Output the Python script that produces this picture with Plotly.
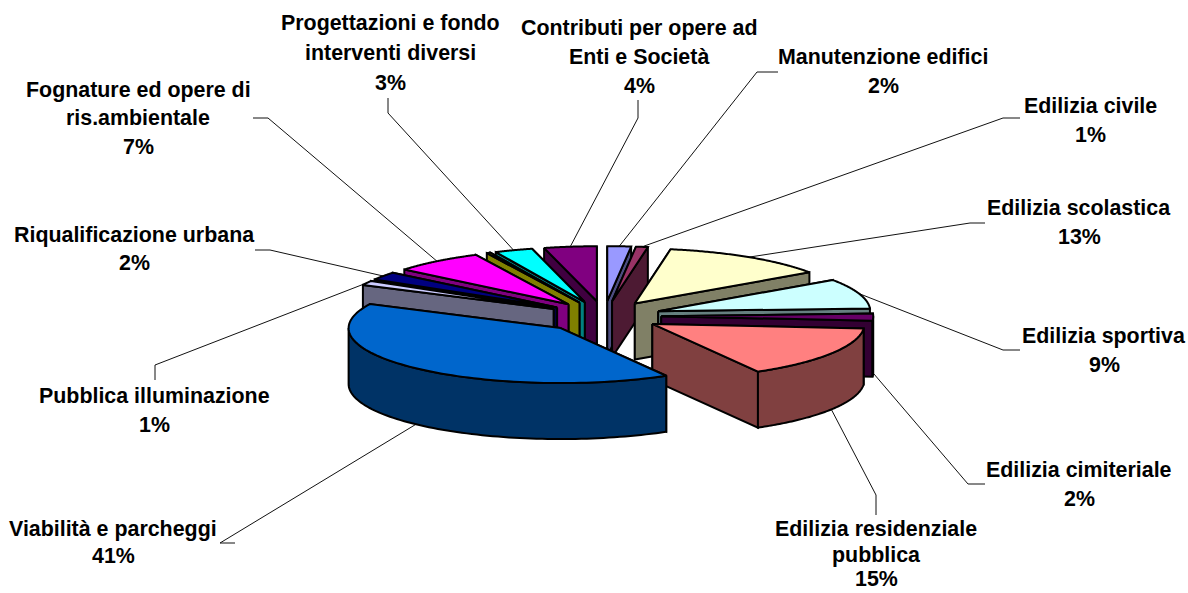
import numpy as np
import plotly.graph_objects as go

# data (clockwise from 12 o'clock)
names = ["Manutenzione edifici", "Edilizia civile", "Edilizia scolastica", "Edilizia sportiva",
         "Edilizia cimiteriale", "Edilizia residenziale pubblica", "Viabilità e parcheggi",
         "Pubblica illuminazione", "Riqualificazione urbana", "Fognature ed opere di ris.ambientale",
         "(senza etichetta)", "Progettazioni e fondo interventi diversi", "Contributi per opere ad Enti e Società"]
values = [1.8, 0.9, 12.7, 8.8, 2.1, 15.4, 40.5, 1.3, 2.4, 6.9, 0.3, 2.9, 4.0]
top_colors = ["#9999FF", "#993366", "#FFFFCC", "#CCFFFF", "#660066", "#FF8080", "#0066CC",
              "#CCCCFF", "#000080", "#FF00FF", "#FFFF00", "#00FFFF", "#800080"]
side_colors = ["#4D4D80", "#4D1A33", "#808066", "#668080", "#330033", "#804040", "#003366",
               "#666680", "#000040", "#800080", "#808000", "#008080", "#400040"]
explode = [0.27, 0.27, 0.27, 0.27, 0.27, 0.27, 0.30, 0.27, 0.27, 0.27, 0.27, 0.27, 0.27]

# layout of the drawing, in page pixels
CX, CY, RX, RY, DEPTH = 604, 316, 212, 55, 56
label_lines = [
    [("Manutenzione edifici", 883, 57), ("2%", 883, 86)],
    [("Edilizia civile", 1090, 106), ("1%", 1090, 135)],
    [("Edilizia scolastica", 1079, 208), ("13%", 1079, 237)],
    [("Edilizia sportiva", 1104, 336), ("9%", 1104, 365)],
    [("Edilizia cimiteriale", 1079, 470), ("2%", 1079, 499)],
    [("Edilizia residenziale", 876, 529), ("pubblica", 876, 555), ("15%", 876, 579)],
    [("Viabilità e parcheggi", 113, 529), ("41%", 113, 556)],
    [("Pubblica illuminazione", 154, 396), ("1%", 154, 425)],
    [("Riqualificazione urbana", 134, 235), ("2%", 134, 263)],
    [("Fognature ed opere di", 138, 90), ("ris.ambientale", 138, 118), ("7%", 138, 147)],
    [],
    [("Progettazioni e fondo", 390, 23), ("interventi diversi", 390, 53), ("3%", 390, 83)],
    [("Contributi per opere ad", 639, 28), ("Enti e Società", 639, 57), ("4%", 639, 86)],
]
leader_elbows = [
    [(778, 72), (757, 72)], [(1020, 118), (1003, 118)], [(985, 223), (970, 223)],
    [(1020, 350), (1003, 350)], [(985, 484), (968, 484)], [(876, 515), (876, 495)],
    [(235, 543), (220, 543)], [(155, 380), (155, 365)], [(255, 250), (270, 250)],
    [(253, 118), (268, 118)], [], [(388, 98), (388, 113)], [(638, 100), (638, 118)],
]

fracs = np.array(values, dtype=float) / sum(values)
edges = np.concatenate([[0], np.cumsum(fracs)]) * 2 * np.pi
fig = go.Figure()


def poly(xs, ys, fill):
    fig.add_trace(go.Scatter(x=list(xs) + [xs[0]], y=list(ys) + [ys[0]], mode="lines", fill="toself",
                             fillcolor=fill, line=dict(color="#000000", width=2, simplify=False),
                             hoverinfo="skip", showlegend=False))


def apex(i):
    m = (edges[i] + edges[i + 1]) / 2
    return CX + explode[i] * RX * np.sin(m), CY - explode[i] * RY * np.cos(m)


def rim(ax, ay, t):
    return ax + RX * np.sin(t), ay - RY * np.cos(t)


# leader lines first, so that the pie sits on top of their ends
for i, elbows in enumerate(leader_elbows):
    if not elbows:
        continue
    m = (edges[i] + edges[i + 1]) / 2
    ex, ey = rim(*apex(i), m)
    if np.cos(m) < 0:
        ey += DEPTH
    xs = [p[0] for p in elbows] + [ex]
    ys = [p[1] for p in elbows] + [ey]
    fig.add_trace(go.Scatter(x=xs, y=ys, mode="lines", line=dict(color="#111111", width=1),
                             hoverinfo="skip", showlegend=False))

# slices, back to front
order = sorted(range(len(values)), key=lambda i: apex(i)[1])
for i in order:
    ax, ay = apex(i)
    a0, a1 = edges[i], edges[i + 1]
    walls = sorted([a0, a1], key=lambda t: -np.cos(t))
    for t in walls:
        rx_, ry_ = rim(ax, ay, t)
        poly([ax, rx_, rx_, ax], [ay, ry_, ry_ + DEPTH, ay + DEPTH], side_colors[i])
    lo, hi = max(a0, np.pi / 2), min(a1, 3 * np.pi / 2)
    if hi > lo:
        ts = np.linspace(lo, hi, 80)
        px, py = rim(ax, ay, ts)
        poly(list(px) + list(px[::-1]), list(py) + list(py[::-1] + DEPTH), side_colors[i])
    ts = np.linspace(a0, a1, 90)
    px, py = rim(ax, ay, ts)
    poly([ax] + list(px), [ay] + list(py), top_colors[i])

annotations = []
for lines in label_lines:
    for text, x, y in lines:
        annotations.append(dict(x=x, y=y, text="<b>" + text + "</b>", showarrow=False, xref="x", yref="y",
                                xanchor="center", yanchor="middle",
                                font=dict(family="Liberation Sans", size=21.4, color="#000000")))

fig.update_layout(
    width=1188, height=593, margin=dict(l=0, r=0, t=0, b=0), autosize=False,
    paper_bgcolor="white", plot_bgcolor="white", showlegend=False, annotations=annotations,
    xaxis=dict(range=[0, 1188], visible=False, fixedrange=True),
    yaxis=dict(range=[593, 0], visible=False, fixedrange=True),
)
# remove the page's default body margin so that one axis unit is exactly one window pixel
fig.write_html("out.html", config={"displayModeBar": False},
               post_script="document.body.style.margin='0';document.documentElement.style.overflow='hidden';")
